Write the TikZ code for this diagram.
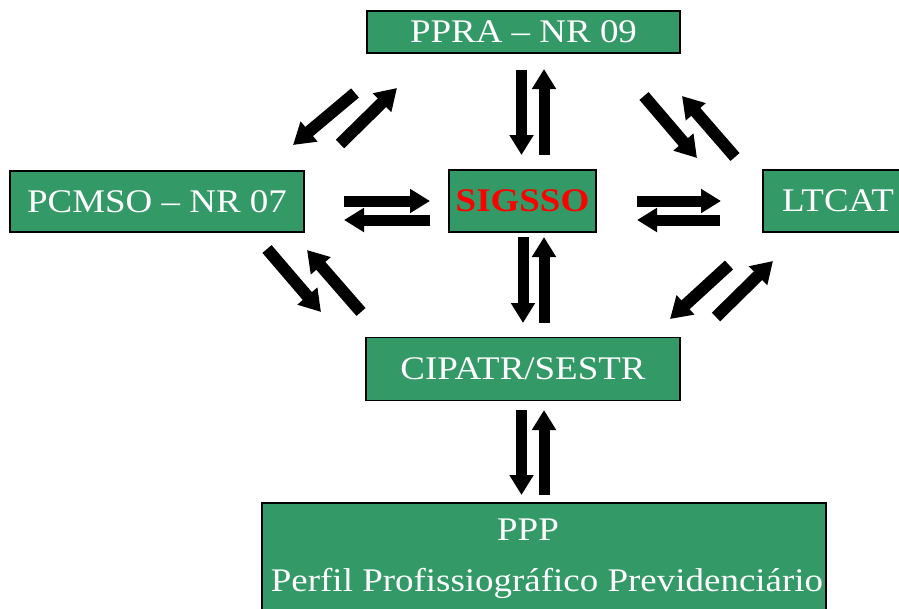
\documentclass[tikz,border=0pt]{standalone}
\usepackage{fontspec}
\setmainfont{Liberation Serif}[FakeStretch=1.12]
\usetikzlibrary{arrows.meta}
\definecolor{boxgreen}{HTML}{339966}
\begin{document}
\begin{tikzpicture}[x=1pt,y=-1pt,
  box/.style={draw=black, line width=1.3pt, fill=boxgreen, inner sep=0pt, text=white,
              font=\fontsize{33}{39}\selectfont},
  blk/.style={line width=11pt, -{Triangle[length=20pt,width=23pt]}},
  dblk/.style={line width=12pt, -{Triangle[length=21pt,width=25pt]}},
  lbl/.style={text=white, inner sep=0pt, font=\fontsize{33}{39}\selectfont}]
\useasboundingbox (0,0) rectangle (899,608);
\clip (0,0) rectangle (899,608);
% boxes
\node[box, minimum width=313pt, minimum height=42pt] (ppra) at (523.5,32) {PPRA – NR 09};
\node[box, minimum width=294pt, minimum height=61pt] (pcmso) at (157,201.5) {PCMSO – NR 07};
\node[box, minimum width=147pt, minimum height=62pt, text=red, font=\fontsize{33}{39}\selectfont\bfseries] (sig) at (522.5,201) {SIGSSO};
\node[box, minimum width=150pt, minimum height=62pt] (ltcat) at (838,201) {LTCAT};
\node[box, minimum width=314pt, minimum height=63pt] (cip) at (523,369) {CIPATR/SESTR};
\node[box, minimum width=564pt, minimum height=120pt] (ppp) at (544,563) {};
\node[lbl] (ppptitle) at (528,530) {PPP};
\node[lbl] (ppptext) at (547,583) {Perfil Profissiográfico Previdenciário};
% arrow end points
\coordinate (a1s) at (521.5,70);  \coordinate (a1e) at (521.5,155);
\coordinate (a2s) at (544,155);   \coordinate (a2e) at (544,69);
\coordinate (a3s) at (523,237);   \coordinate (a3e) at (523,323);
\coordinate (a4s) at (544,323);   \coordinate (a4e) at (544,237);
\coordinate (a5s) at (521.5,410); \coordinate (a5e) at (521.5,495);
\coordinate (a6s) at (544,495);   \coordinate (a6e) at (544,410);
\coordinate (a7s) at (344,201);   \coordinate (a7e) at (430,201);
\coordinate (a8s) at (430,220);   \coordinate (a8e) at (344,220);
\coordinate (a9s) at (637,201);   \coordinate (a9e) at (721,201);
\coordinate (a10s) at (720,220);  \coordinate (a10e) at (637,220);
\coordinate (a11s) at (355,93);   \coordinate (a11e) at (293,145);
\coordinate (a12s) at (340,144);  \coordinate (a12e) at (397,88);
\coordinate (a13s) at (644,96);   \coordinate (a13e) at (697,158);
\coordinate (a14s) at (735,157);  \coordinate (a14e) at (682,96);
\coordinate (a15s) at (267,249);  \coordinate (a15e) at (321,312);
\coordinate (a16s) at (361,312);  \coordinate (a16e) at (307,250);
\coordinate (a17s) at (729,265);  \coordinate (a17e) at (670,319);
\coordinate (a18s) at (716,317);  \coordinate (a18e) at (773,261);
% arrows
\foreach \i in {1,...,10}{\draw[blk] (a\i s) -- (a\i e);}
\foreach \i in {11,...,18}{\draw[dblk] (a\i s) -- (a\i e);}
\end{tikzpicture}
\end{document}
